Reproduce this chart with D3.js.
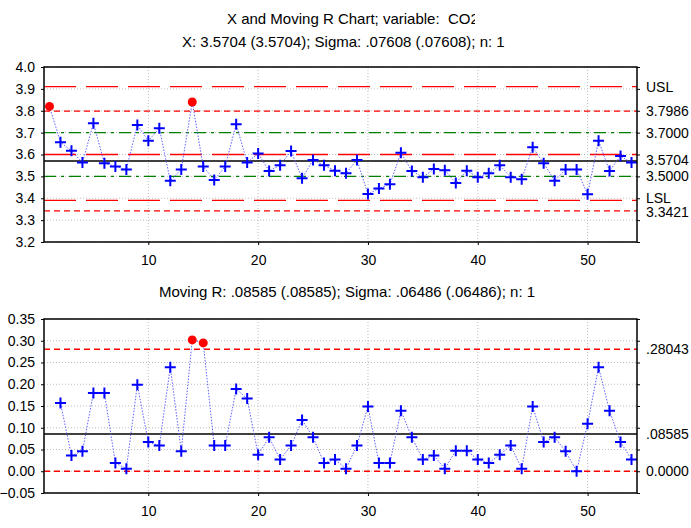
<!DOCTYPE html>
<html>
<head>
<meta charset="utf-8">
<script src="https://cdn.jsdelivr.net/npm/d3@7"></script>
<style>
  body { margin: 0; background: #fff; }
  text { font-family: 'Liberation Sans', Arial, sans-serif; fill: #000; }
</style>
</head>
<body>
<script>
const width = 691
const height = 528

// observations 1..54
const obs = d3.range(1, 55)

// individual values (X chart)
const xValues = [3.820, 3.656, 3.617, 3.563, 3.743, 3.560, 3.545, 3.532, 3.735, 3.663,
  3.720, 3.480, 3.532, 3.840, 3.545, 3.483, 3.545, 3.738, 3.563, 3.605,
  3.525, 3.551, 3.616, 3.491, 3.575, 3.551, 3.526, 3.514, 3.575, 3.419,
  3.445, 3.464, 3.608, 3.525, 3.496, 3.534, 3.528, 3.470, 3.526, 3.496,
  3.514, 3.551, 3.496, 3.487, 3.633, 3.560, 3.480, 3.532, 3.532, 3.418,
  3.663, 3.525, 3.593, 3.563]

// moving ranges (first one undefined)
const mrValues = [null, 0.157, 0.036, 0.046, 0.180, 0.180, 0.019, 0.006, 0.199, 0.067,
  0.059, 0.239, 0.046, 0.302, 0.295, 0.059, 0.059, 0.189, 0.167, 0.038,
  0.078, 0.027, 0.059, 0.118, 0.078, 0.019, 0.027, 0.006, 0.059, 0.149,
  0.019, 0.019, 0.139, 0.078, 0.027, 0.036, 0.006, 0.047, 0.047, 0.027,
  0.019, 0.038, 0.059, 0.006, 0.149, 0.067, 0.078, 0.046, 0.000, 0.109,
  0.239, 0.139, 0.067, 0.027]

// limits for X chart
const xSpec = { usl: 3.91, lsl: 3.39, nominal: 3.6 }
const xControl = { ucl: 3.7986, center: 3.5704, lcl: 3.3421 }
const xSigma = [3.70, 3.50]
const xRightLabels = [
  { v: 3.91, text: 'USL' }, { v: 3.7986, text: '3.7986' }, { v: 3.70, text: '3.7000' },
  { v: 3.5704, text: '3.5704' }, { v: 3.50, text: '3.5000' }, { v: 3.39, text: 'LSL' },
  { v: 3.3421, text: '3.3421' }
]

// limits for moving R chart
const mrControl = { ucl: 0.28043, center: 0.08585, lcl: 0 }
const mrRightLabels = [
  { v: 0.28043, text: '.28043' }, { v: 0.08585, text: '.08585' }, { v: 0, text: '0.0000' }
]

const xTickValues = [10, 20, 30, 40, 50]
const yTicksX = [3.2, 3.3, 3.4, 3.5, 3.6, 3.7, 3.8, 3.9, 4.0]
const yTicksMR = [-0.05, 0, 0.05, 0.10, 0.15, 0.20, 0.25, 0.30, 0.35]

const titles = [
  'X and Moving R Chart; variable:  CO2',
  'X: 3.5704 (3.5704); Sigma: .07608 (.07608); n: 1'
]
const mrTitle = 'Moving R: .08585 (.08585); Sigma: .06486 (.06486); n: 1'

const svg = d3.select('body').append('svg')
  .attr('width', width)
  .attr('height', height)

const left = 44
const right = 637

const x = d3.scaleLinear().domain([0.5, 54.5]).range([left, right])

// the first title line is cut off in the original
svg.append('clipPath').attr('id', 'title-clip')
  .append('rect').attr('x', 0).attr('y', 0).attr('width', 475).attr('height', 30)

svg.append('text')
  .attr('x', 227).attr('y', 23.5)
  .attr('font-size', 15)
  .style('white-space', 'pre')
  .attr('clip-path', 'url(#title-clip)')
  .text(titles[0])

svg.append('text')
  .attr('x', 182).attr('y', 47)
  .attr('font-size', 15)
  .text(titles[1])

svg.append('text')
  .attr('x', 159).attr('y', 297)
  .attr('font-size', 15)
  .text(mrTitle)

function drawPanel (cfg) {
  const y = d3.scaleLinear().domain(cfg.domain).range([cfg.bottom, cfg.top])
  const g = svg.append('g')

  // grid
  g.append('g').selectAll('line').data(cfg.yTicks).enter().append('line')
    .attr('x1', left).attr('x2', right)
    .attr('y1', d => y(d)).attr('y2', d => y(d))
    .attr('stroke', '#bdbdbd').attr('stroke-dasharray', '1,2')
  g.append('g').selectAll('line').data(xTickValues).enter().append('line')
    .attr('x1', d => x(d)).attr('x2', d => x(d))
    .attr('y1', cfg.top).attr('y2', cfg.bottom)
    .attr('stroke', '#bdbdbd').attr('stroke-dasharray', '1,2')

  // reference lines
  cfg.refs.forEach(r => {
    g.append('line')
      .attr('x1', left).attr('x2', right)
      .attr('y1', y(r.v)).attr('y2', y(r.v))
      .attr('stroke', r.color)
      .attr('stroke-width', r.w || 1.3)
      .attr('stroke-dasharray', r.dash || null)
  })

  // data line
  const line = d3.line()
    .defined(d => d.v != null)
    .x(d => x(d.i))
    .y(d => y(d.v))
  const pts = obs.map((i, k) => ({ i: i, v: cfg.values[k] }))
  g.append('path')
    .datum(pts)
    .attr('d', line)
    .attr('fill', 'none')
    .attr('stroke', '#6060ff')
    .attr('stroke-width', 1)
    .attr('stroke-dasharray', '1.5,1.5')

  const valid = pts.filter(d => d.v != null)
  const out = valid.filter(d => d.v > cfg.ucl)
  const inside = valid.filter(d => d.v <= cfg.ucl)

  g.append('g').selectAll('path').data(inside).enter().append('path')
    .attr('d', d => {
      const px = x(d.i), py = y(d.v)
      return `M${px - 5.5},${py}H${px + 5.5}M${px},${py - 5.5}V${py + 5.5}`
    })
    .attr('stroke', '#0000ff')
    .attr('stroke-width', 2)

  g.append('g').selectAll('circle').data(out).enter().append('circle')
    .attr('cx', d => x(d.i)).attr('cy', d => y(d.v))
    .attr('r', 4.5)
    .attr('fill', '#ff0000')

  // frame
  g.append('rect')
    .attr('x', left).attr('y', cfg.top)
    .attr('width', right - left).attr('height', cfg.bottom - cfg.top)
    .attr('fill', 'none').attr('stroke', '#000').attr('stroke-width', 1.5)

  // axes
  const yAxis = g.append('g')
    .attr('transform', `translate(${left},0)`)
    .call(d3.axisLeft(y).tickValues(cfg.yTicks).tickSize(3).tickPadding(6)
      .tickFormat(cfg.yFormat || d3.format('.2f')))
  yAxis.select('.domain').remove()
  yAxis.selectAll('text').attr('font-size', 14).attr('font-family', 'Liberation Sans, Arial, sans-serif')

  const yRight = g.append('g')
    .attr('transform', `translate(${right},0)`)
    .call(d3.axisRight(y).tickValues(cfg.yTicks).tickSize(3).tickFormat(''))
  yRight.select('.domain').remove()

  const xAxis = g.append('g')
    .attr('transform', `translate(0,${cfg.bottom})`)
    .call(d3.axisBottom(x).tickValues(xTickValues).tickSize(3).tickPadding(10))
  xAxis.select('.domain').remove()
  xAxis.selectAll('text').attr('font-size', 14).attr('font-family', 'Liberation Sans, Arial, sans-serif')

  // right labels
  g.append('g').selectAll('text').data(cfg.labels).enter().append('text')
    .attr('x', 646)
    .attr('y', d => y(d.v) + (cfg.nudge[d.text] || 0))
    .attr('dy', '0.35em')
    .attr('font-size', 14)
    .text(d => d.text)
}

const redLong = '32,10'
const redShort = '6,4'
const greenDashDot = '12,5,3,5'

drawPanel({
  top: 67,
  bottom: 242,
  domain: [3.2, 4.0],
  yTicks: yTicksX,
  yFormat: d3.format('.1f'),
  values: xValues,
  ucl: xControl.ucl,
  labels: xRightLabels,
  nudge: { LSL: -2.5, '3.3421': 1.5, '3.5704': -1 },
  refs: [
    { v: xSpec.usl, color: '#ff0000', dash: redLong },
    { v: xSpec.lsl, color: '#ff0000', dash: redLong },
    { v: xSpec.nominal, color: '#ff0000', dash: redLong },
    { v: xControl.ucl, color: '#ff0000', dash: redShort },
    { v: xControl.lcl, color: '#ff0000', dash: redShort },
    { v: xSigma[0], color: '#008000', dash: greenDashDot },
    { v: xSigma[1], color: '#008000', dash: greenDashDot },
    { v: xControl.center, color: '#000', w: 1.5 }
  ]
})

drawPanel({
  top: 319,
  bottom: 493,
  domain: [-0.05, 0.35],
  yTicks: yTicksMR,
  values: mrValues,
  ucl: mrControl.ucl,
  labels: mrRightLabels,
  nudge: {},
  refs: [
    { v: mrControl.ucl, color: '#ff0000', dash: redShort },
    { v: mrControl.lcl, color: '#ff0000', dash: redShort },
    { v: mrControl.center, color: '#000', w: 1.5 }
  ]
})
</script>
</body>
</html>
